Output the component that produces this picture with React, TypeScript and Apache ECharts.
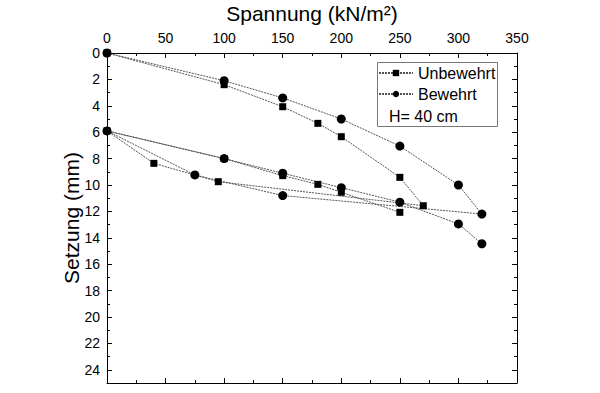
import React, { useEffect, useRef } from "react";
import * as echarts from "echarts";

const unbewehrtX = [0, 100, 150, 180, 200, 250, 270, 95, 40, 0, 100, 150, 180, 200, 250];
const unbewehrtY = [0, 2.4, 4.07, 5.33, 6.34, 9.42, 11.57, 9.75, 8.36, 5.9, 8.0, 9.29, 9.95, 10.55, 12.07];
const bewehrtX = [0, 100, 150, 200, 250, 300, 320, 150, 75, 0, 100, 150, 200, 250, 300, 320];
const bewehrtY = [0, 2.1, 3.4, 5.0, 7.05, 10.0, 12.2, 10.8, 9.24, 5.9, 8.0, 9.11, 10.2, 11.3, 12.95, 14.45];
const xTitle = "Spannung (kN/m²)";
const yTitle = "Setzung (mm)";
const seriesNames = ["Unbewehrt", "Bewehrt"];
const noteText = "H= 40 cm";

const FONT = "'Liberation Sans', Arial, sans-serif";

export default function App() {
  const ref = useRef<HTMLDivElement>(null);
  useEffect(() => {
    if (!ref.current) return;
    const chart = echarts.init(ref.current, null, { renderer: "svg" });
    const lineStyle = { color: "#555", width: 1, type: [2, 1] as any };
    const axisCommon = {
      axisLine: { show: true, onZero: false, lineStyle: { color: "#000", width: 1 } },
      axisTick: { show: true, inside: true, length: 5, lineStyle: { color: "#000" } },
      minorTick: { show: true, splitNumber: 2, length: 3, lineStyle: { color: "#000" } },
      splitLine: { show: false },
    };
    chart.setOption({
      animation: false,
      backgroundColor: "#fff",
      textStyle: { fontFamily: FONT },
      grid: { left: 107, top: 53, right: 83, bottom: 10, outerBoundsMode: "none", containLabel: false },
      xAxis: [
        {
          type: "value",
          position: "top",
          min: 0,
          max: 350,
          interval: 50,
          name: xTitle,
          nameLocation: "middle",
          nameGap: 29,
          nameMoveOverlap: false,
          nameTextStyle: { fontSize: 21, color: "#000", fontFamily: FONT },
          axisLabel: { fontSize: 14, color: "#000", margin: 8, fontFamily: FONT },
          ...axisCommon,
        },
        {
          type: "value",
          position: "bottom",
          min: 0,
          max: 350,
          interval: 50,
          axisLabel: { show: false },
          ...axisCommon,
        },
      ],
      yAxis: [
        {
          type: "value",
          inverse: true,
          position: "left",
          min: 0,
          max: 25,
          interval: 2,
          name: yTitle,
          nameLocation: "middle",
          nameRotate: 90,
          nameGap: 25,
          nameMoveOverlap: false,
          nameTextStyle: { fontSize: 21, color: "#000", fontFamily: FONT },
          axisLabel: {
            fontSize: 14,
            color: "#000",
            margin: 7,
            fontFamily: FONT,
            formatter: (v: number) => (v > 24 ? "" : String(v)),
          },
          ...axisCommon,
        },
        {
          type: "value",
          inverse: true,
          position: "right",
          min: 0,
          max: 25,
          interval: 2,
          axisLabel: { show: false },
          ...axisCommon,
        },
      ],
      legend: {
        orient: "vertical",
        left: 378,
        top: 65,
        itemWidth: 34,
        itemHeight: 8,
        itemGap: 5,
        padding: 0,
        data: seriesNames,
        textStyle: { fontSize: 16, color: "#000", fontFamily: FONT },
      },
      graphic: [
        {
          type: "rect",
          shape: { x: 377.5, y: 62.5, width: 120, height: 64 },
          style: { fill: "none", stroke: "#777", lineWidth: 1 },
          z: 10,
        },
        {
          type: "text",
          left: 389,
          top: 108,
          style: { text: noteText, fontSize: 16, fill: "#000", fontFamily: FONT },
          z: 10,
        },
      ],
      series: [
        {
          name: seriesNames[0],
          type: "line",
          xAxisIndex: 0,
          yAxisIndex: 0,
          data: unbewehrtX.map((x, i) => [x, unbewehrtY[i]]),
          symbol: "rect",
          symbolSize: 7,
          itemStyle: { color: "#000" },
          lineStyle,
          showAllSymbol: true,
        },
        {
          name: seriesNames[1],
          type: "line",
          xAxisIndex: 0,
          yAxisIndex: 0,
          data: bewehrtX.map((x, i) => [x, bewehrtY[i]]),
          symbol: "circle",
          symbolSize: 9,
          itemStyle: { color: "#000" },
          lineStyle,
          showAllSymbol: true,
        },
      ],
    });
    return () => chart.dispose();
  }, []);
  return <div ref={ref} style={{ width: 600, height: 393, position: "absolute", left: 0, top: 0 }} />;
}
